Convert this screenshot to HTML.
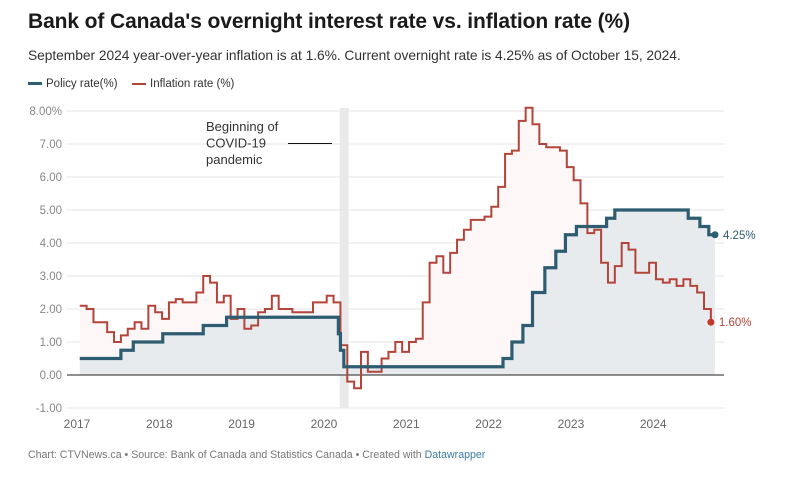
<!DOCTYPE html>
<html><head><meta charset="utf-8"><style>
body{margin:0;background:#fff;font-family:"Liberation Sans",sans-serif;}
#wrap{position:relative;width:790px;height:478px;overflow:hidden;}
.t{position:absolute;white-space:nowrap;}
</style></head><body>
<div id="wrap">
<div class="t" style="left:28px;top:10px;font-size:21px;font-weight:bold;color:#1a1a1a;letter-spacing:-0.1px;">Bank of Canada's overnight interest rate vs. inflation rate (%)</div>
<div class="t" style="left:28px;top:48px;font-size:13.8px;color:#333;letter-spacing:-0.05px;">September 2024 year-over-year inflation is at 1.6%. Current overnight rate is 4.25% as of October 15, 2024.</div>
<div class="t" style="left:28px;top:78px;font-size:11.5px;color:#333;"><span style="display:inline-block;width:14px;height:3px;background:#2e5c71;vertical-align:middle;margin-right:4px;"></span>Policy rate(%)</div>
<div class="t" style="left:132px;top:78px;font-size:11.5px;color:#333;"><span style="display:inline-block;width:14px;height:2px;background:#b3443a;vertical-align:middle;margin-right:4px;"></span>Inflation rate (%)</div>
<svg id="chart" width="790" height="478" style="position:absolute;left:0;top:0;"></svg>
<div class="t" style="left:28px;top:449px;font-size:10.6px;color:#777;">Chart: CTVNews.ca • Source: Bank of Canada and Statistics Canada • Created with <span style="color:#3a7ca5;">Datawrapper</span></div>
</div>
<script>
const yTicks=[8,7,6,5,4,3,2,1,0,-1];
const yearLabels=["2017","2018","2019","2020","2021","2022","2023","2024"];
const inflation=[2.1,2.0,1.6,1.6,1.3,1.0,1.2,1.4,1.6,1.4,2.1,1.9,
1.7,2.2,2.3,2.2,2.2,2.5,3.0,2.8,2.2,2.4,1.7,2.0,
1.4,1.5,1.9,2.0,2.4,2.0,2.0,1.9,1.9,1.9,2.2,2.2,
2.4,2.2,0.9,-0.2,-0.4,0.7,0.1,0.1,0.5,0.7,1.0,0.7,
1.0,1.1,2.2,3.4,3.6,3.1,3.7,4.1,4.4,4.7,4.7,4.8,
5.1,5.7,6.7,6.8,7.7,8.1,7.6,7.0,6.9,6.9,6.8,6.3,
5.9,5.2,4.3,4.4,3.4,2.8,3.3,4.0,3.8,3.1,3.1,3.4,
2.9,2.8,2.9,2.7,2.9,2.7,2.5,2.0,1.6];
const policyDates=[0,6.4,8.2,12.5,18.4,21.8,38.1,38.4,38.9,62.1,63.4,65.0,66.4,68.2,69.8,71.2,72.8,77.2,78.4,89.1,90.8,92.1,93.0];
const policyValues=[0.5,0.75,1.0,1.25,1.5,1.75,1.25,0.75,0.25,0.5,1.0,1.5,2.5,3.25,3.75,4.25,4.5,4.75,5.0,4.75,4.5,4.25,4.25];
const covidStart=38.3, covidEnd=39.6;

const NS="http://www.w3.org/2000/svg";
const svg=document.getElementById('chart');
const X=t=>77+t*6.86;
const Y=v=>375-v*33;
const L=67,R=724;
function mk(tag,attrs){const e=document.createElementNS(NS,tag);for(const k in attrs)e.setAttribute(k,attrs[k]);svg.appendChild(e);return e;}

yTicks.forEach(v=>{
  const g=mk('line',{x1:L,x2:R,y1:Y(v),y2:Y(v),stroke:v===0?'#222':'#e3e3e3','stroke-width':1});
  
  
  const tx=mk('text',{x:62,y:Y(v)+4,'text-anchor':'end','font-size':'11.5','fill':'#888','font-family':'Liberation Sans, sans-serif'});
  tx.textContent=v.toFixed(2)+(v===8?'%':'');
  
  
});
const band=mk('rect',{x:X(covidStart),y:108,width:X(covidEnd)-X(covidStart),height:300,fill:'#e9e9e9'});



yearLabels.forEach((s,i)=>{
  const tx=mk('text',{x:X(i*12),y:428,'text-anchor':'middle','font-size':'12','fill':'#666','font-family':'Liberation Sans, sans-serif'});
  tx.textContent=s;
  
  
});

let ip='';
inflation.forEach((v,i)=>{const x=X(i+0.4),y=Y(v);ip+=(i===0?'M'+x+','+y:'H'+x+'V'+y);});
const lastX=X(inflation.length-1+0.4);
const ifill=mk('path',{d:ip+'V'+Y(0)+'H'+X(0.4)+'Z',fill:'#fdf8f7'});



let pp='';
policyDates.forEach((d,i)=>{const x=X(d),y=Y(policyValues[i]);pp+=(i===0?'M'+X(0.4)+','+y:'H'+x+'V'+y);});
const pEnd=X(policyDates[policyDates.length-1]);
const pfill=mk('path',{d:pp+'V'+Y(0)+'H'+X(0.4)+'Z',fill:'#e8ebee'});


const z=mk('line',{x1:L,x2:R,y1:Y(0),y2:Y(0),stroke:'#222','stroke-width':1});



const iline=mk('path',{d:ip,fill:'none',stroke:'#b3443a','stroke-width':2});


const pline=mk('path',{d:pp,fill:'none',stroke:'#2e5c71','stroke-width':3.2});



const idot=mk('circle',{cx:lastX,cy:Y(inflation[inflation.length-1]),r:3.5,fill:'#c0392b'});


const pdot=mk('circle',{cx:pEnd,cy:Y(policyValues[policyValues.length-1]),r:3.5,fill:'#2e5c71'});


const il=mk('text',{x:lastX+8,y:Y(inflation[inflation.length-1])+4,'font-size':'11.5',fill:'#b3443a','font-family':'Liberation Sans, sans-serif'});
il.textContent=inflation[inflation.length-1].toFixed(2)+'%';


const pl=mk('text',{x:pEnd+8,y:Y(policyValues[policyValues.length-1])+4,'font-size':'11.5',fill:'#2e5c71','font-family':'Liberation Sans, sans-serif'});
pl.textContent=policyValues[policyValues.length-1].toFixed(2)+'%';



const al=mk('line',{x1:288,x2:332,y1:143.5,y2:143.5,stroke:'#111','stroke-width':1});


['Beginning of','COVID-19','pandemic'].forEach((s,i)=>{
  const tx=mk('text',{x:206,y:131+i*16.5,'font-size':'13',fill:'#333','font-family':'Liberation Sans, sans-serif'});
  tx.textContent=s;
  
  
});
</script>
</body></html>
